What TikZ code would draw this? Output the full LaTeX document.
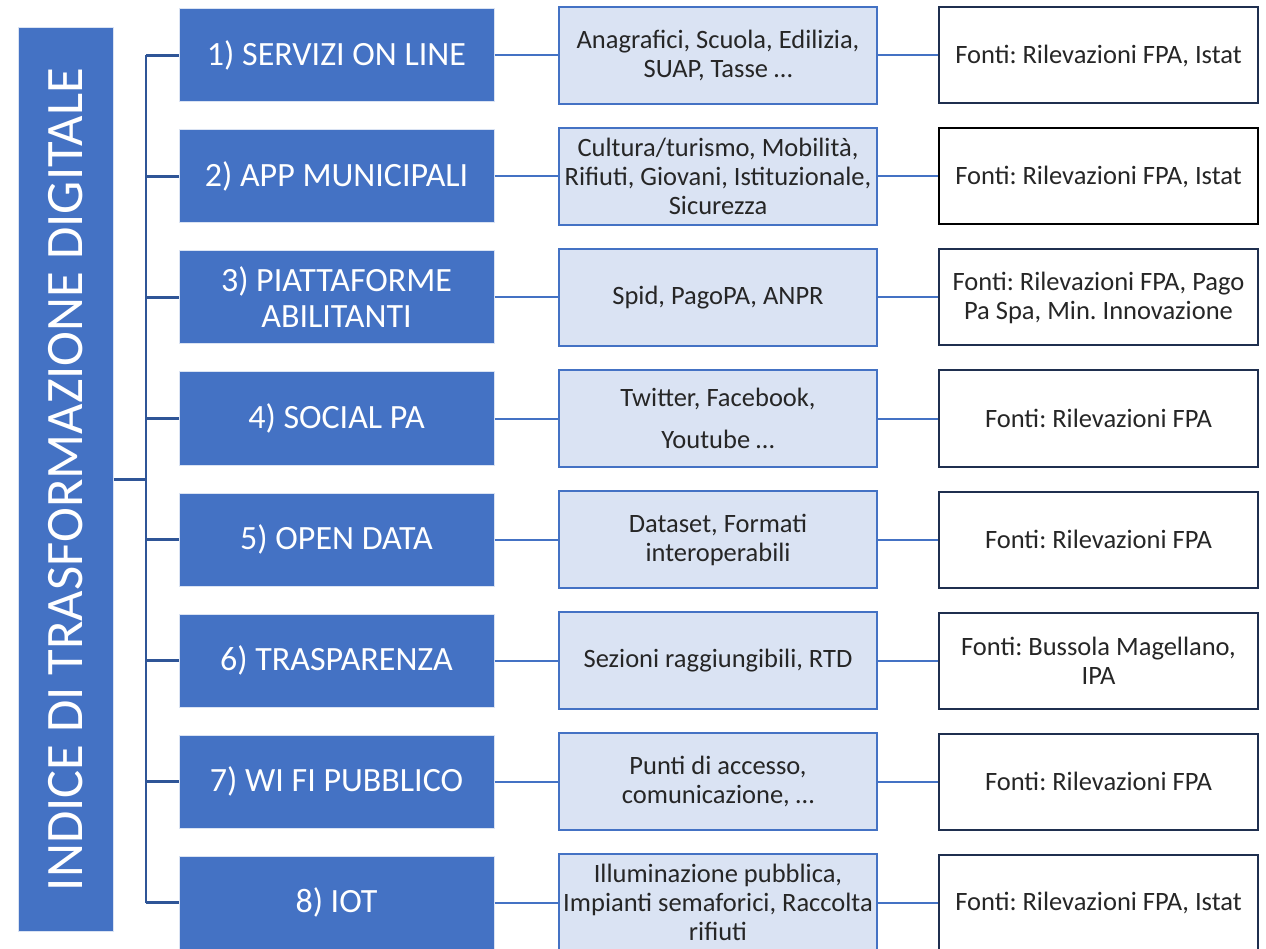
\documentclass[tikz,border=0pt]{standalone}
\usepackage{fontspec}
\setmainfont{Carlito}
\frenchspacing
\definecolor{mblue}{HTML}{4472C4}
\definecolor{lblue}{HTML}{DAE3F3}
\definecolor{tree}{HTML}{2F5597}
\definecolor{navy}{HTML}{1F2F4F}
\begin{document}
\begin{tikzpicture}[x=1pt,y=-1pt,
  bluebox/.style={fill=mblue,draw=white!80!mblue,line width=1pt,minimum width=315pt,minimum height=93pt,align=center,text=white,inner sep=0pt,font=\fontsize{34}{36}\selectfont},
  lightbox/.style={fill=lblue,draw=mblue,line width=2pt,minimum width=318pt,minimum height=97pt,align=center,text=black!85,inner sep=0pt,font=\fontsize{26.5}{29}\selectfont},
  whitebox/.style={fill=white,draw=navy,line width=2pt,minimum width=319pt,minimum height=96pt,align=center,text=black!85,inner sep=0pt,font=\fontsize{26.5}{29}\selectfont},
  conn/.style={draw=mblue,line width=2pt},
  treeline/.style={draw=tree,line width=2.5pt}]
\useasboundingbox (0,0) rectangle (1266,949);
\node[fill=mblue,draw=white!80!mblue,line width=1pt,minimum width=95pt,minimum height=903pt,inner sep=0pt] (title) at (65.5,479.5) {};
\node[rotate=90,text=white,font=\fontsize{52.6}{56}\selectfont] (titletext) at (title.center) {INDICE DI TRASFORMAZIONE DIGITALE};
\coordinate (sp) at (146,479.5);
% blue boxes
\node[bluebox] (b1) at (336.5,55.5) {1) SERVIZI ON LINE};
\node[bluebox] (b2) at (336.5,176.5) {2) APP MUNICIPALI};
\node[bluebox] (b3) at (336.5,297.5) {3) PIATTAFORME\\ABILITANTI};
\node[bluebox] (b4) at (336.5,418.5) {4) SOCIAL PA};
\node[bluebox] (b5) at (336.5,539.5) {5) OPEN DATA};
\node[bluebox] (b6) at (336.5,660.5) {6) TRASPARENZA};
\node[bluebox] (b7) at (336.5,781.5) {7) WI FI PUBBLICO};
\node[bluebox] (b8) at (336.5,902.5) {8) IOT};
% light boxes
\node[lightbox] (l1) at (718,55.5) {Anagrafici, Scuola, Edilizia,\\SUAP, Tasse …};
\node[lightbox] (l2) at (718,176.5) {Cultura/turismo, Mobilità,\\Rifiuti, Giovani, Istituzionale,\\Sicurezza};
\node[lightbox] (l3) at (718,297.5) {Spid, PagoPA, ANPR};
\node[lightbox] (l4) at (718,418.5) {Twitter, Facebook,\\[13pt]Youtube …};
\node[lightbox] (l5) at (718,539.5) {Dataset, Formati\\interoperabili};
\node[lightbox] (l6) at (718,660.5) {Sezioni raggiungibili, RTD};
\node[lightbox] (l7) at (718,781.5) {Punti di accesso,\\comunicazione, …};
\node[lightbox] (l8) at (718,902.5) {Illuminazione pubblica,\\Impianti semaforici, Raccolta\\rifiuti};
% white boxes
\node[whitebox] (w1) at (1098.5,55.5) {Fonti: Rilevazioni FPA, Istat};
\node[whitebox,draw=black] (w2) at (1098.5,176.5) {Fonti: Rilevazioni FPA, Istat};
\node[whitebox] (w3) at (1098.5,297.5) {Fonti: Rilevazioni FPA, Pago\\Pa Spa, Min. Innovazione};
\node[whitebox] (w4) at (1098.5,418.5) {Fonti: Rilevazioni FPA};
\node[whitebox] (w5) at (1098.5,539.5) {Fonti: Rilevazioni FPA};
\node[whitebox] (w6) at (1098.5,660.5) {Fonti: Bussola Magellano,\\IPA};
\node[whitebox] (w7) at (1098.5,781.5) {Fonti: Rilevazioni FPA};
\node[whitebox] (w8) at (1098.5,902.5) {Fonti: Rilevazioni FPA, Istat};
% tree
\draw[treeline] (title.east |- sp) -- (sp);
\draw[treeline] (sp |- b1.west) -- (sp |- b8.west);
\foreach \i in {1,...,8} {
  \draw[treeline] (sp |- b\i.west) -- (b\i.west);
  \draw[conn] (b\i.east) -- (l\i.west);
  \draw[conn] (l\i.east) -- (w\i.west);
}
\end{tikzpicture}
\end{document}
